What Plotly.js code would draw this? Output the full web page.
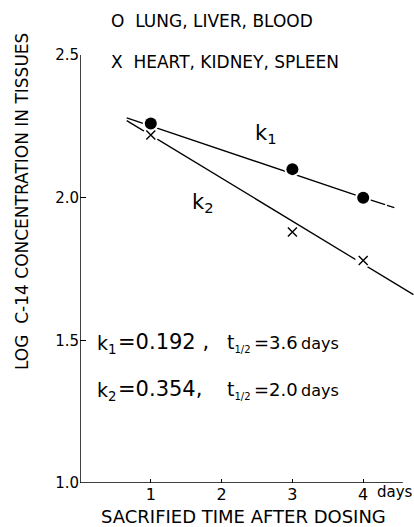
<!DOCTYPE html>
<html>
<head>
<meta charset="utf-8">
<script src="https://cdn.plot.ly/plotly-3.0.1.min.js"></script>
<style>
html,body{margin:0;padding:0;background:#fff;}
#chart{width:414px;height:527px;}
</style>
</head>
<body>
<div id="chart"></div>
<script>
// ---- data ----
const days = [1, 3, 4];
const lungLiverBlood = [2.26, 2.10, 2.00];
const heartKidneySpleen = [2.22, 1.88, 1.78];

const k1LineDays = [0.66, 4.0];
const k1LineLog = [2.28, 2.0];
const k1TailDays = [4.0, 4.44];
const k1TailLog = [2.0, 1.965];
const k2LineDays = [0.66, 4.71];
const k2LineLog = [2.27, 1.66];

const xTickVals = [1, 2, 3, 4];
const xTickText = ['1', '2', '3', '4'];
const yTickVals = [1.0, 1.5, 2.0, 2.5];
const yTickText = ['1.0', '1.5', '2.0', '2.5'];

const legendLung = 'O  LUNG, LIVER, BLOOD';
const legendHeart = 'X  HEART, KIDNEY, SPLEEN';
const yTitle = 'LOG  C-14 CONCENTRATION IN TISSUES';
const xTitle = 'SACRIFIED TIME AFTER DOSING';

const rateK1 = '0.192';
const rateK2 = '0.354';
const halfLife1 = '3.6';
const halfLife2 = '2.0';

// ---- layout helpers ----
const L = 80, T = 55, W = 414, H = 527, B = 44;
const PW = W - L, PH = H - T - B;
const px = v => (v - L) / PW;
const py = v => (H - B - v) / PH;
const F = 'DejaVu Sans, sans-serif';
const ink = '#000';

const traces = [
  {x: k1LineDays, y: k1LineLog, mode: 'lines', line: {color: ink, width: 1.3}, hoverinfo: 'skip'},
  {x: k1TailDays, y: k1TailLog, mode: 'lines', line: {color: ink, width: 1.3, dash: '23px,2px'}, hoverinfo: 'skip'},
  {x: k2LineDays, y: k2LineLog, mode: 'lines', line: {color: ink, width: 1.3}, hoverinfo: 'skip'},
  // white backing to break lines around the marks
  {x: days, y: heartKidneySpleen, mode: 'markers', marker: {symbol: 'circle', size: 16, color: '#fff'}, hoverinfo: 'skip'},
  {x: days, y: lungLiverBlood, mode: 'markers', marker: {symbol: 'circle', size: 16, color: '#fff'}, hoverinfo: 'skip'},
  {x: days, y: heartKidneySpleen, mode: 'markers', name: 'HEART, KIDNEY, SPLEEN',
   marker: {symbol: 'x-thin-open', size: 9, color: ink, line: {color: ink, width: 1.4}}},
  {x: days, y: lungLiverBlood, mode: 'markers', name: 'LUNG, LIVER, BLOOD',
   marker: {symbol: 'circle', size: 12, color: ink}}
];

const ann = (o, size) => Object.assign({showarrow: false, xref: 'paper', yref: 'paper',
  xanchor: 'left', yanchor: 'middle', borderpad: 0, font: {family: F, size: size || 17, color: ink}}, o);
const half = 't<sub><span style="font-size:10px">1/2</span></sub>';

function eqLine(yc, kSub, rate, hl) {
  return [
    ann({x: px(96), y: py(yc + 2), text: 'k<sub>' + kSub + '</sub>'}, 19),
    ann({x: px(117), y: py(yc), text: '=' + rate + (kSub === '1' ? ' ,' : ',')}, 21),
    ann({x: px(226), y: py(yc + 1), text: half}, 19),
    ann({x: px(253), y: py(yc), text: '=' + hl}, 18),
    ann({x: px(300), y: py(yc + 1), text: 'days'}, 16)
  ];
}

const layout = {
  width: W, height: H,
  margin: {l: L, r: 0, t: T, b: B, pad: 0},
  paper_bgcolor: '#fff', plot_bgcolor: '#fff',
  showlegend: false,
  xaxis: {
    range: [0, PW / 70.8], showgrid: false, zeroline: false, showline: false,
    tickmode: 'array', tickvals: xTickVals, ticktext: xTickText,
    ticks: 'inside', ticklen: 4, tickwidth: 1.2, tickcolor: ink,
    tickfont: {family: F, size: 16, color: ink}
  },
  yaxis: {
    range: [1.0, 2.5], showgrid: false, zeroline: false, showline: false,
    tickmode: 'array', tickvals: yTickVals, ticktext: yTickText,
    ticks: 'inside', ticklen: 6, tickwidth: 1.2, tickcolor: ink,
    tickfont: {family: F, size: 15, color: ink}
  },
  shapes: [
    {type: 'line', xref: 'x', yref: 'y', x0: 0, x1: 0, y0: 1.0, y1: 2.5, line: {color: ink, width: 1.5}},
    {type: 'line', xref: 'x', yref: 'y', x0: 0, x1: 4.56, y0: 1.0, y1: 1.0, line: {color: ink, width: 1.5}}
  ],
  annotations: [
    ann({x: px(110), y: py(21), text: legendLung}),
    ann({x: px(110), y: py(61.5), text: legendHeart}),
    ann({x: px(22), y: py(202), xanchor: 'center', textangle: -90, text: yTitle}),
    ann({x: px(243), y: py(516), xanchor: 'center', text: xTitle}, 18),
    ann({x: px(376), y: py(492), text: 'days'}, 15),
    ann({x: px(254), y: py(134), text: 'k<sub>1</sub>'}, 21),
    ann({x: px(191), y: py(203), text: 'k<sub>2</sub>'}, 21)
  ].concat(eqLine(342, '1', rateK1, halfLife1), eqLine(389, '2', rateK2, halfLife2))
};

Plotly.newPlot('chart', traces, layout, {displayModeBar: false, staticPlot: true});
</script>
</body>
</html>
